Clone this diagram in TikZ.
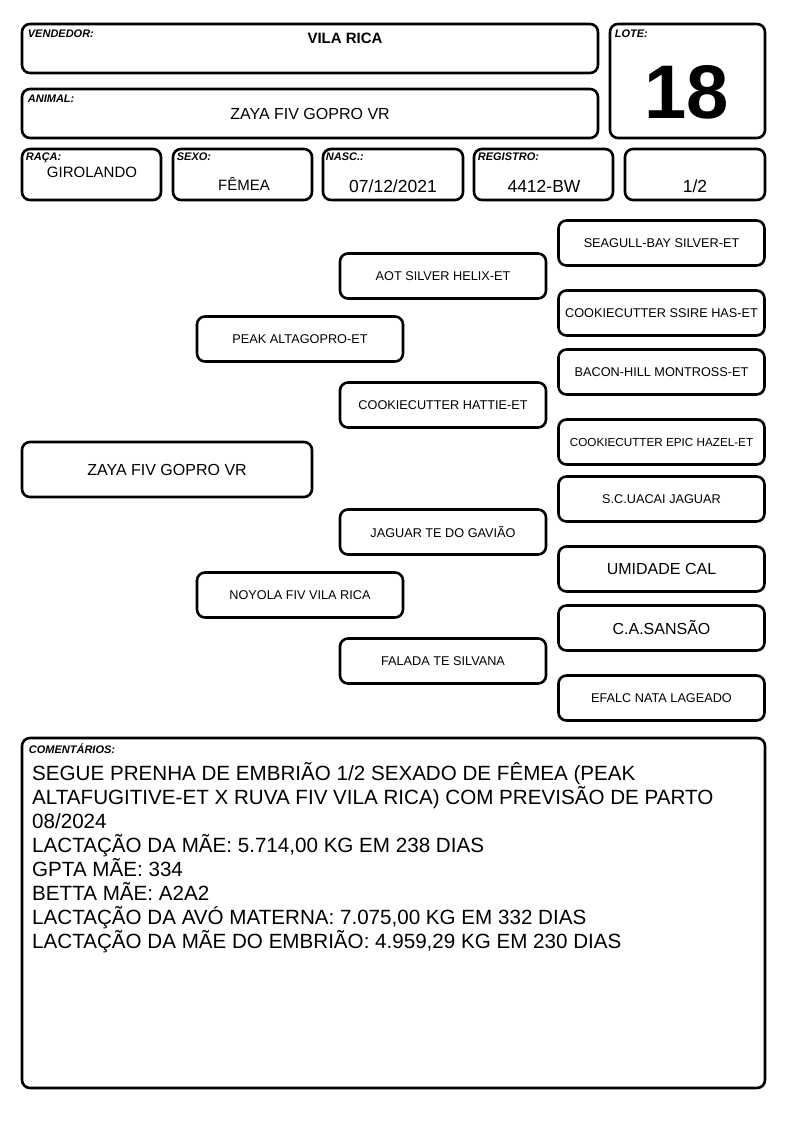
\documentclass[tikz,border=0pt]{standalone}
\usepackage{fontspec}
\setmainfont{Liberation Sans}
\usepackage{tikz}
\usetikzlibrary{positioning}
\tikzset{
  card/.style={draw, rounded corners=8pt, line width=2.6pt, inner sep=0pt, fill=white},
  lbl/.style={font=\fontsize{11}{12}\selectfont\bfseries\itshape, inner sep=0pt, anchor=north west},
  val/.style={font=\fontsize{15}{17}\selectfont, inner sep=0pt},
  ped/.style={card, minimum width=206pt, minimum height=45pt, font=\fontsize{12.7}{14}\selectfont}
}
\begin{document}
\begin{tikzpicture}[x=1pt,y=-1pt]
    \useasboundingbox (0,0) rectangle (794,1123);

    % === Header ===
    \node[card, minimum width=576pt, minimum height=49pt] (vend) at (310,48.5) {};
    \node[lbl] (vendlbl) at ([xshift=7pt,yshift=-7pt]vend.north west) {VENDEDOR:};
    \node[val, font=\fontsize{15}{17}\selectfont\bfseries] (vendval) at (345,38) {VILA RICA};

    \node[card, minimum width=576pt, minimum height=49pt] (anim) at (310,113.5) {};
    \node[lbl] (animlbl) at ([xshift=7pt,yshift=-7pt]anim.north west) {ANIMAL:};
    \node[val, font=\fontsize{16}{18}\selectfont] (animval) at (310,114) {ZAYA FIV GOPRO VR};

    \node[card, minimum width=155pt, minimum height=114pt] (lote) at (687.5,81) {};
    \node[lbl] (lotelbl) at ([xshift=6pt,yshift=-7pt]lote.north west) {LOTE:};
    \node[val, font=\fontsize{76}{76}\selectfont\bfseries] (loteval) at (687,92) {18};

    % === Row of data ===
    \node[card, minimum width=139pt, minimum height=51pt] (raca) at (91.5,174.5) {};
    \node[lbl] (racalbl) at ([xshift=5pt,yshift=-5pt]raca.north west) {RAÇA:};
    \node[val] (racaval) at (92,172) {GIROLANDO};

    \node[card, minimum width=139pt, minimum height=51pt] (sexo) at (242.5,174.5) {};
    \node[lbl] (sexolbl) at ([xshift=5pt,yshift=-5pt]sexo.north west) {SEXO:};
    \node[val] (sexoval) at (244,184) {FÊMEA};

    \node[card, minimum width=140pt, minimum height=51pt] (nasc) at (393,174.5) {};
    \node[lbl] (nasclbl) at ([xshift=4pt,yshift=-5pt]nasc.north west) {NASC.:};
    \node[val, font=\fontsize{17.5}{19}\selectfont] (nascval) at (393,186) {07/12/2021};

    \node[card, minimum width=139pt, minimum height=51pt] (reg) at (543.5,174.5) {};
    \node[lbl] (reglbl) at ([xshift=5pt,yshift=-5pt]reg.north west) {REGISTRO:};
    \node[val, font=\fontsize{17.5}{19}\selectfont] (regval) at (544,186) {4412-BW};

    \node[card, minimum width=140pt, minimum height=51pt] (frac) at (695,174.5) {};
    \node[val, font=\fontsize{17.5}{19}\selectfont] (fracval) at (695,186) {1/2};

    % === Pedigree ===
    \node[card, minimum width=290pt, minimum height=55pt, font=\fontsize{16}{18}\selectfont] (animal) at (167,469.5) {ZAYA FIV GOPRO VR};

    \node[ped] (sire) at (300,339) {PEAK ALTAGOPRO-ET};
    \node[ped] (dam) at (300,595) {NOYOLA FIV VILA RICA};

    \foreach \i/\y/\txt in {1/276/AOT SILVER HELIX-ET, 2/405/COOKIECUTTER HATTIE-ET,
                            3/532/JAGUAR TE DO GAVIÃO, 4/661/FALADA TE SILVANA} {
        \node[ped] (gp\i) at (443,\y) {\txt};
    }

    \foreach \i/\y/\fs/\txt in {1/243/12.7/SEAGULL-BAY SILVER-ET, 2/313/12.7/COOKIECUTTER SSIRE HAS-ET,
                                3/372/12.7/BACON-HILL MONTROSS-ET, 4/442/11.7/COOKIECUTTER EPIC HAZEL-ET,
                                5/499/12.7/S.C.UACAI JAGUAR, 6/569/16/UMIDADE CAL,
                                7/628/16/C.A.SANSÃO, 8/698/12.7/EFALC NATA LAGEADO} {
        \node[ped, font=\fontsize{\fs}{\fs}\selectfont] (ggp\i) at (661.5,\y) {\txt};
    }

    % === Comments ===
    \node[card, minimum width=743pt, minimum height=350pt] (coment) at (393.5,913) {};
    \node[lbl] (comentlbl) at ([xshift=8pt,yshift=-7pt]coment.north west) {COMENTÁRIOS:};
    \node[inner sep=0pt, anchor=north west, align=left, font=\fontsize{20.6}{24}\selectfont] (comenttxt)
        at (32,762.5) {SEGUE PRENHA DE EMBRIÃO 1/2 SEXADO DE FÊMEA (PEAK\\
        ALTAFUGITIVE-ET X RUVA FIV VILA RICA) COM PREVISÃO DE PARTO\\
        08/2024\\
        LACTAÇÃO DA MÃE: 5.714,00 KG EM 238 DIAS\\
        GPTA MÃE: 334\\
        BETTA MÃE: A2A2\\
        LACTAÇÃO DA AVÓ MATERNA: 7.075,00 KG EM 332 DIAS\\
        LACTAÇÃO DA MÃE DO EMBRIÃO: 4.959,29 KG EM 230 DIAS};

\end{tikzpicture}
\end{document}
